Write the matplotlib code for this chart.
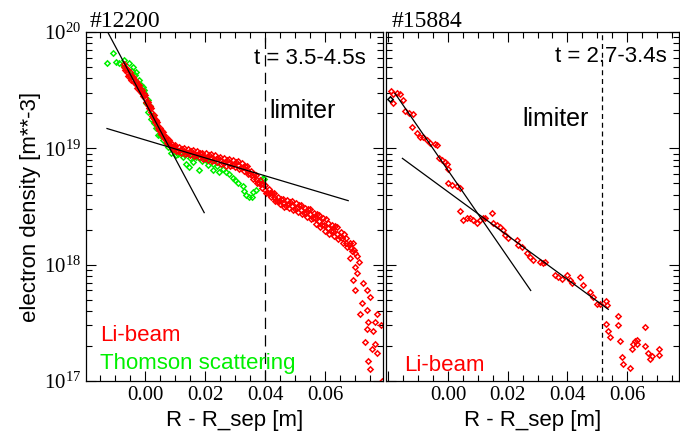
import numpy as np
import matplotlib
matplotlib.use("Agg")
import matplotlib.pyplot as plt
from matplotlib.ticker import MultipleLocator, LogLocator, NullFormatter, LogFormatterMathtext

plt.rcParams['font.family'] = ['Liberation Serif', 'DejaVu Serif']
plt.rcParams['mathtext.fontset'] = 'custom'
plt.rcParams['mathtext.rm'] = 'Liberation Serif'

# ---- shot #12200, Li-beam (x in m, density in 1e19 m^-3)
li1_x = [-0.0070, -0.0060, -0.0050, -0.0040, -0.0030, -0.0020, -0.0010, 0.0000, 0.0010, 0.0020,
         0.0030, 0.0040, 0.0050, 0.0060, 0.0070, 0.0080, 0.0090, 0.0100, 0.0115, 0.0130,
         0.0145, 0.0160, 0.0175, 0.0190, 0.0205, 0.0220, 0.0235, 0.0250, 0.0265, 0.0280,
         0.0295, 0.0310, 0.0325, 0.0340, 0.0355, 0.0370, 0.0385, 0.0400, 0.0415, 0.0430,
         0.0445, 0.0460, 0.0475, 0.0490, 0.0505, 0.0520, 0.0535, 0.0550, 0.0565, 0.0580,
         0.0595, 0.0610, 0.0625, 0.0640, 0.0655, 0.0670, 0.0685, 0.0700,
         -0.0072, -0.0066, -0.0062, -0.0056, -0.0052, -0.0046, -0.0042, -0.0036, -0.0032, -0.0026,
         -0.0022, -0.0016, -0.0012, -0.0006, -0.0002, 0.0004, 0.0008, 0.0014, 0.0018, 0.0024,
         0.0028, 0.0034, 0.0038, 0.0044, 0.0048, 0.0054, 0.0058, 0.0064, 0.0068, 0.0074,
         0.0078, 0.0084, 0.0088, 0.0094, 0.0098, 0.0104, 0.0112, 0.0118, 0.0128, 0.0134,
         0.0142, 0.0148, 0.0158, 0.0164, 0.0172, 0.0178, 0.0188, 0.0194, 0.0202, 0.0208,
         0.0218, 0.0224, 0.0232, 0.0238, 0.0248, 0.0254, 0.0262, 0.0268, 0.0278, 0.0284,
         0.0292, 0.0298, 0.0308, 0.0314, 0.0322, 0.0328, 0.0338, 0.0344, 0.0352, 0.0358,
         0.0368, 0.0374, 0.0382, 0.0388, 0.0398, 0.0404, 0.0412, 0.0418, 0.0428, 0.0434,
         0.0442, 0.0448, 0.0458, 0.0464, 0.0472, 0.0478, 0.0488, 0.0494, 0.0502, 0.0508,
         0.0518, 0.0524, 0.0532, 0.0538, 0.0548, 0.0554, 0.0562, 0.0568, 0.0578, 0.0584,
         0.0592, 0.0598, 0.0608, 0.0614, 0.0622, 0.0628, 0.0638, 0.0644, 0.0652, 0.0658,
         0.0668, 0.0674, 0.0682, 0.0688,
         -0.0065, -0.0055, -0.0045, -0.0035, -0.0025, -0.0015, -0.0005, 0.0005, 0.0015, 0.0025,
         0.0035, 0.0045, 0.0055, 0.0065, 0.0075, 0.0085, 0.0095, 0.0108, 0.0122, 0.0138,
         0.0152, 0.0168, 0.0182, 0.0198, 0.0212, 0.0228, 0.0242, 0.0258, 0.0272, 0.0288,
         0.0302, 0.0318, 0.0332, 0.0348, 0.0362, 0.0378, 0.0392, 0.0408, 0.0422, 0.0438,
         0.0452, 0.0468, 0.0482, 0.0498, 0.0512, 0.0528, 0.0542, 0.0558, 0.0572, 0.0588,
         0.0602, 0.0618, 0.0632, 0.0648, 0.0662, 0.0678, 0.0692, 0.0696, 0.0712, 0.0705,
         0.0683, 0.0700, 0.0707, 0.0693, 0.0727, 0.0740, 0.0700, 0.0750, 0.0723, 0.0740,
         0.0773, 0.0717, 0.0743, 0.0767, 0.0785, 0.0740, 0.0760, 0.0733, 0.0767, 0.0757,
         0.0773, 0.0750, 0.0743, 0.0790]
li1_n = [5.0, 4.5, 4.2, 3.9, 3.55, 3.3, 3.0, 2.7, 2.35, 2.05,
         1.8, 1.6, 1.4, 1.3, 1.18, 1.1, 1.03, 1.0, 0.97, 0.95,
         0.93, 0.91, 0.89, 0.86, 0.85, 0.83, 0.81, 0.79, 0.76, 0.75,
         0.74, 0.72, 0.69, 0.65, 0.59, 0.54, 0.49, 0.44, 0.41, 0.38,
         0.355, 0.34, 0.33, 0.32, 0.31, 0.295, 0.28, 0.27, 0.25, 0.235,
         0.22, 0.205, 0.195, 0.185, 0.17, 0.155, 0.14, 0.125,
         5.3, 4.7, 4.8, 4.2, 4.5, 3.9, 4.1, 3.7, 3.8, 3.3,
         3.5, 3.1, 3.2, 2.8, 2.9, 2.5, 2.5, 2.2, 2.2, 1.9,
         1.95, 1.7, 1.7, 1.5, 1.5, 1.32, 1.38, 1.22, 1.26, 1.12,
         1.17, 1.04, 1.10, 0.98, 1.06, 0.95, 1.03, 0.92, 1.01, 0.90,
         0.99, 0.88, 0.97, 0.86, 0.95, 0.84, 0.92, 0.81, 0.91, 0.80,
         0.89, 0.78, 0.87, 0.76, 0.85, 0.74, 0.82, 0.71, 0.81, 0.70,
         0.80, 0.69, 0.78, 0.67, 0.75, 0.64, 0.71, 0.60, 0.64, 0.55,
         0.59, 0.50, 0.53, 0.46, 0.48, 0.41, 0.45, 0.38, 0.41, 0.355,
         0.385, 0.33, 0.37, 0.315, 0.36, 0.305, 0.35, 0.295, 0.34, 0.285,
         0.325, 0.27, 0.31, 0.255, 0.30, 0.245, 0.28, 0.225, 0.265, 0.21,
         0.25, 0.195, 0.23, 0.185, 0.22, 0.175, 0.21, 0.165, 0.19, 0.155,
         0.17, 0.142, 0.155, 0.13,
         4.85, 4.25, 4.15, 3.65, 3.5, 3.05, 2.95, 2.45, 2.3, 1.85,
         1.75, 1.45, 1.4, 1.22, 1.18, 1.04, 1.05, 0.95, 0.99, 0.91,
         0.95, 0.87, 0.92, 0.83, 0.87, 0.80, 0.83, 0.75, 0.80, 0.72,
         0.76, 0.68, 0.70, 0.60, 0.60, 0.50, 0.49, 0.41, 0.41, 0.35,
         0.37, 0.32, 0.345, 0.30, 0.325, 0.28, 0.30, 0.25, 0.27, 0.22,
         0.245, 0.195, 0.215, 0.172, 0.185, 0.148, 0.155, 0.135, 0.105, 0.118,
         0.114, 0.096, 0.085, 0.074, 0.069, 0.060, 0.060, 0.053, 0.047, 0.041,
         0.038, 0.038, 0.032, 0.032, 0.030, 0.028, 0.027, 0.0215, 0.021, 0.019,
         0.0173, 0.0128, 0.015, 0.010]

# ---- shot #12200, Thomson scattering
ts_x = [-0.0107, -0.0127, -0.0097, -0.0087, -0.0070, -0.0053, -0.0040, -0.0030, -0.0020, -0.0007,
        -0.0003, 0.0003, 0.0010, 0.0020, 0.0037, 0.0043, 0.0060, 0.0077, 0.0087, 0.0103,
        0.0127, 0.0137, 0.0147, 0.0160, 0.0170, 0.0180, 0.0180, 0.0203, 0.0227, 0.0227,
        0.0247, 0.0270, 0.0293, 0.0310, 0.0327, 0.0337, 0.0347, 0.0360, 0.0370, 0.0393,
        0.0397, -0.0075, -0.0045, -0.0035, -0.0015, -0.0005, 0.0008, 0.0015, 0.0025, 0.0030,
        0.0050, 0.0070, 0.0090, 0.0110, 0.0150, 0.0190, 0.0210, 0.0240, 0.0260, 0.0280,
        0.0300, 0.0330, 0.0355, 0.0385, 0.0110, 0.0130]
ts_n = [6.6, 5.4, 5.5, 5.4, 5.75, 5.4, 5.0, 4.5, 3.9, 3.4,
        3.0, 2.45, 2.05, 1.8, 1.5, 1.3, 1.18, 1.02, 0.91, 0.87,
        0.85, 0.74, 0.69, 0.76, 0.85, 0.83, 0.65, 0.79, 0.74, 0.65,
        0.63, 0.62, 0.56, 0.50, 0.47, 0.40, 0.38, 0.42, 0.44, 0.56,
        0.54, 5.2, 4.6, 4.3, 3.5, 3.2, 2.6, 2.3, 1.95, 1.65,
        1.3, 1.12, 0.98, 0.90, 0.83, 0.78, 0.72, 0.70, 0.67, 0.60,
        0.53, 0.43, 0.38, 0.52, 0.94, 0.90]

# fit lines #12200 (end points)
fit1a_x = [-0.0123, 0.0197]
fit1a_n = [9.8, 0.28]
fit1b_x = [-0.0127, 0.0677]
fit1b_n = [1.48, 0.355]

# ---- shot #15884, Li-beam
li2_x = [-0.0192, -0.0183, -0.0170, -0.0161, -0.0152, -0.0183, -0.0144, -0.0130, -0.0116, -0.0122,
         -0.0105, -0.0094, -0.0083, -0.0071, -0.0060, -0.0044, -0.0038, -0.0032, -0.0021, -0.0010,
         -0.0004, 0.0001, 0.0001, 0.0012, 0.0029, 0.0040, 0.0040, 0.0051, 0.0062, 0.0074,
         0.0085, 0.0096, 0.0107, 0.0118, 0.0124, 0.0146, 0.0152, 0.0163, 0.0174, 0.0185,
         0.0191, 0.0202, 0.0230, 0.0236, 0.0247, 0.0264, 0.0275, 0.0286, 0.0308, 0.0319,
         0.0325, 0.0358, 0.0369, 0.0381, 0.0398, 0.0409, 0.0414, 0.0442, 0.0453, 0.0476,
         0.0487, 0.0498, 0.0509, 0.0529, 0.0532, 0.0529, 0.0537, 0.0543, 0.0571, 0.0571,
         0.0576, 0.0582, 0.0587, 0.0610, 0.0615, 0.0621, 0.0626, 0.0632, 0.0632, 0.0660,
         0.0660, 0.0671, 0.0677, 0.0682, 0.0708, 0.0708]
li2_n = [3.13, 2.91, 2.97, 2.91, 2.60, 2.44, 2.09, 2.00, 1.96, 1.53,
         1.36, 1.26, 1.26, 1.18, 1.12, 1.09, 1.07, 0.82, 0.79, 0.76,
         0.74, 0.67, 0.50, 0.48, 0.47, 0.46, 0.29, 0.24, 0.25, 0.25,
         0.24, 0.23, 0.24, 0.25, 0.25, 0.28, 0.23, 0.22, 0.21, 0.20,
         0.18, 0.17, 0.163, 0.148, 0.143, 0.125, 0.117, 0.110, 0.105, 0.103,
         0.105, 0.081, 0.079, 0.076, 0.081, 0.074, 0.069, 0.078, 0.067, 0.058,
         0.053, 0.046, 0.046, 0.049, 0.045, 0.031, 0.027, 0.024, 0.036, 0.030,
         0.022, 0.016, 0.014, 0.013, 0.019, 0.021, 0.022, 0.0225, 0.021, 0.029,
         0.020, 0.0175, 0.0154, 0.0164, 0.0187, 0.0167]
first2_x = [-0.0196]
first2_n = [2.67]

fit2a_x = [-0.0178, 0.0277]
fit2a_n = [2.97, 0.060]
fit2b_x = [-0.0153, 0.0537]
fit2b_n = [0.82, 0.0413]

lim1 = 0.040
lim2 = 0.0517


def xfmt(v, p):
    if v < -0.01:
        return ""
    return "%.2f" % (0.0 if abs(v) < 1e-9 else v)


def style_axes(ax, xlim, show_y):
    ax.set_yscale("log")
    ax.set_ylim(1e17, 1e20)
    ax.set_xlim(*xlim)
    ax.xaxis.set_major_locator(MultipleLocator(0.02))
    ax.xaxis.set_minor_locator(MultipleLocator(0.005))
    ax.yaxis.set_major_locator(LogLocator(base=10))
    ax.yaxis.set_minor_locator(LogLocator(base=10, subs=np.arange(2, 10)))
    ax.yaxis.set_minor_formatter(NullFormatter())
    ax.xaxis.set_major_formatter(plt.FuncFormatter(xfmt))
    if show_y:
        ax.yaxis.set_major_formatter(LogFormatterMathtext())
    else:
        ax.yaxis.set_major_formatter(NullFormatter())
    ax.tick_params(which="both", direction="in", top=True, right=True, labelsize=15, width=0.8)
    ax.tick_params(which="major", length=7)
    ax.tick_params(which="minor", length=4)
    for lab in ax.get_xticklabels() + ax.get_yticklabels():
        lab.set_family("Liberation Serif")
    for s in ax.spines.values():
        s.set_linewidth(0.9)


fig = plt.figure(figsize=(6.8, 4.32), dpi=100)
ax1 = fig.add_axes([86 / 680, 51 / 432, 297 / 680, 349 / 432])
ax2 = fig.add_axes([386 / 680, 51 / 432, 293 / 680, 349 / 432])

sc = 1e19
mk = dict(marker="D", linestyle="none", markersize=2.7, markerfacecolor="none", markeredgewidth=1.1)

ax1.plot(ts_x, np.array(ts_n) * sc, color="#00f000", **mk)
ax1.plot(li1_x, np.array(li1_n) * sc, color="#ff0000", **mk)
ax1.plot(fit1a_x, np.array(fit1a_n) * sc, color="black", lw=0.9)
ax1.plot(fit1b_x, np.array(fit1b_n) * sc, color="black", lw=0.9)
ax1.axvline(lim1, color="black", lw=0.9, dashes=(9, 5))
style_axes(ax1, (-0.0197, 0.0793), True)
ax1.set_xlabel("R - R_sep [m]", family="Liberation Sans", fontsize=16, labelpad=4)
ax1.set_ylabel("electron density [m**-3]", family="Liberation Sans", fontsize=16, labelpad=2)

ax2.plot(li2_x, np.array(li2_n) * sc, color="#ff0000", **mk)
ax2.plot(first2_x, np.array(first2_n) * sc, color="black", **mk)
ax2.plot(fit2a_x, np.array(fit2a_n) * sc, color="black", lw=0.9)
ax2.plot(fit2b_x, np.array(fit2b_n) * sc, color="black", lw=0.9)
ax2.axvline(lim2, color="black", lw=0.9, dashes=(4, 3))
style_axes(ax2, (-0.0208, 0.0774), False)
ax2.set_xlabel("R - R_sep [m]", family="Liberation Sans", fontsize=16, labelpad=4)


def px(x, y):
    return x / 680, 1 - y / 432


sans = dict(family="Liberation Sans")
fig.text(*px(90, 27), "#12200", fontsize=17, ha="left", va="baseline")
fig.text(*px(392, 27), "#15884", fontsize=17, ha="left", va="baseline")
fig.text(*px(366, 58), "t = 3.5-4.5s", fontsize=16, ha="right", va="center", **sans)
fig.text(*px(667, 57), "t = 2.7-3.4s", fontsize=16, ha="right", va="center", **sans)
fig.text(*px(269, 118), "limiter", fontsize=18, ha="left", va="baseline", **sans)
fig.text(*px(522, 126), "limiter", fontsize=18, ha="left", va="baseline", **sans)
fig.text(*px(100, 341), "Li-beam", fontsize=16, ha="left", va="baseline", color="#ff0000", **sans)
fig.text(*px(100, 369), "Thomson scattering", fontsize=16, ha="left", va="baseline", color="#00f000", **sans)
fig.text(*px(404, 371), "Li-beam", fontsize=16, ha="left", va="baseline", color="#ff0000", **sans)

fig.savefig("out.png", dpi=100)
